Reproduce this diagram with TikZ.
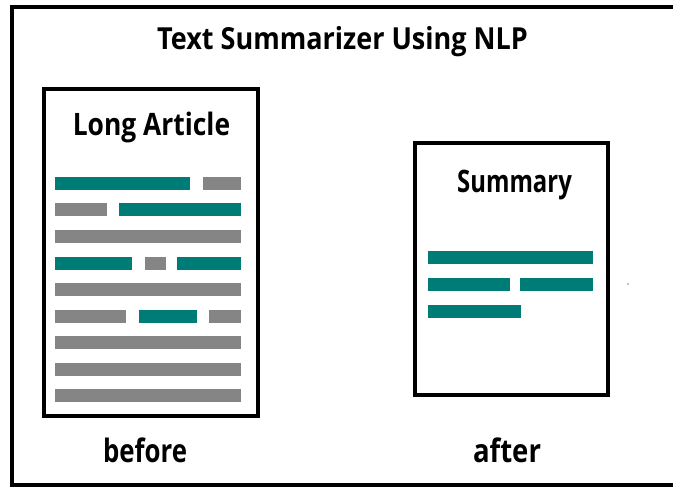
\documentclass[tikz,border=0pt]{standalone}
\usepackage{fontspec}
\setmainfont{Open Sans}
\definecolor{tealbar}{HTML}{007C77}
\definecolor{graybar}{HTML}{858585}
\begin{document}
\begin{tikzpicture}[x=0.75pt,y=-0.75pt,
  frame/.style={draw=black,line width=3pt},
  lbl/.style={anchor=base,inner sep=0pt,font=\fontsize{22}{26}\selectfont\bfseries},
  tb/.style={fill=tealbar},
  gb/.style={fill=graybar}]
\clip (0,0) rectangle (673,486);
\fill[white] (0,0) rectangle (673,486);
% outer frame
\draw[frame] (12,7) rectangle (700,485);
% title
\node[lbl] (title) at (342.5,49) {\resizebox{278pt}{17.3pt}{Text Summarizer Using NLP}};
% long article document
\draw[frame] (43.5,89) rectangle (258,416);
\node[lbl] (longt) at (151.5,135) {\resizebox{118pt}{17.6pt}{Long Article}};
% rows
\fill[tb] (55,176.5) rectangle (190,189.5);
\fill[gb] (203,176.5) rectangle (241,189.5);
\fill[gb] (55,202.5) rectangle (107,215.5);
\fill[tb] (119,202.5) rectangle (241,215.5);
\fill[gb] (55,230) rectangle (241,243);
\fill[tb] (55,256.5) rectangle (132,269.5);
\fill[gb] (145,256.5) rectangle (166,269.5);
\fill[tb] (177,256.5) rectangle (241,269.5);
\fill[gb] (55,283) rectangle (241,296);
\fill[gb] (55,309.5) rectangle (126,322.5);
\fill[tb] (139,309.5) rectangle (197,322.5);
\fill[gb] (209,309.5) rectangle (241,322.5);
\fill[gb] (55,335.5) rectangle (241,348.5);
\fill[gb] (55,362.5) rectangle (241,375.5);
\fill[gb] (55,388.5) rectangle (241,401.5);
% summary document
\draw[frame] (415,143) rectangle (608,395);
\node[lbl] (sumt) at (514.5,192) {\resizebox{86pt}{16.8pt}{Summary}};
\fill[tb] (428,250.5) rectangle (593,263.5);
\fill[tb] (428,277.5) rectangle (510,290.5);
\fill[tb] (520,277.5) rectangle (593,290.5);
\fill[tb] (428,304.5) rectangle (521,317.5);
\fill[graybar] (628,284) circle (0.9);
% captions
\node[lbl] (before) at (145,462) {\resizebox{63pt}{18.5pt}{before}};
\node[lbl] (after) at (507,462) {\resizebox{51pt}{18.5pt}{after}};
\end{tikzpicture}
\end{document}
